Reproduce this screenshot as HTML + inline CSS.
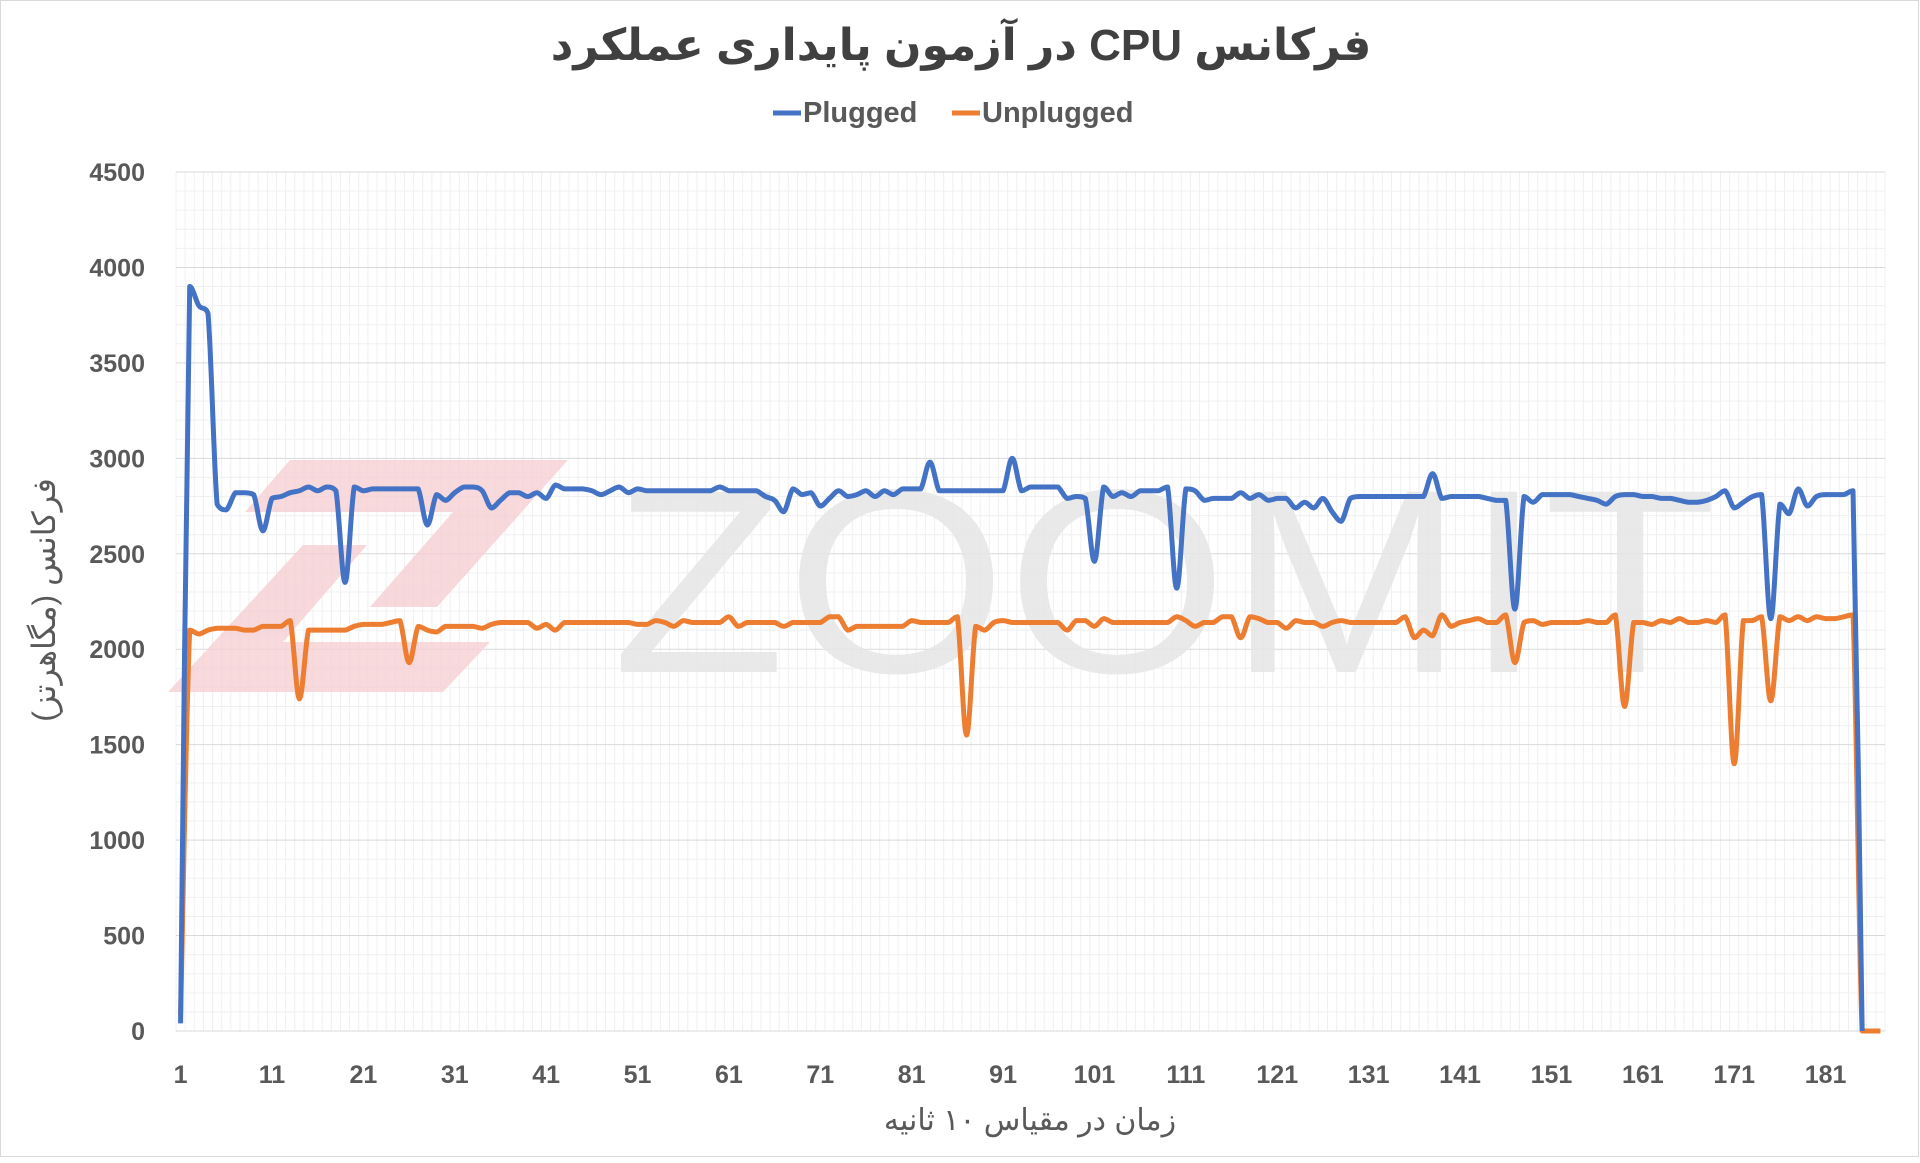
<!DOCTYPE html>
<html><head><meta charset="utf-8"><style>
html,body{margin:0;padding:0;background:#fff;}
body{width:1920px;height:1158px;overflow:hidden;position:relative;font-family:"Liberation Sans","DejaVu Sans",sans-serif;}
</style></head><body>
<svg id="s" width="1920" height="1158" viewBox="0 0 1920 1158" xmlns="http://www.w3.org/2000/svg">
<rect x="0.5" y="0.5" width="1918" height="1156" fill="#fff" stroke="#d9d9d9"/>
<g id="grid"></g>
<!-- watermark -->
<g fill="#f6cfd3" opacity="0.8">
<polygon points="290,460 568,460 437,607 370,607 453,512 245,512"/>
<polygon points="303,545 367,545 283,642 490,642 443,692 168,692"/>
</g>
<text x="612" y="672" font-family="Liberation Sans,sans-serif" font-size="262" fill="#e6e6e6" opacity="0.85" textLength="1105" lengthAdjust="spacingAndGlyphs">ZOOMIT</text>
<g id="lines"></g>
<text x="961" y="60" text-anchor="middle" direction="rtl" font-family="'Liberation Sans','DejaVu Sans',sans-serif" font-weight="bold" font-size="44" fill="#404040">فرکانس CPU در آزمون پایداری عملکرد</text>
<line x1="773" y1="113" x2="801" y2="113" stroke="#4472c4" stroke-width="5"/>
<text x="803" y="122" font-weight="bold" font-size="29" fill="#595959">Plugged</text>
<line x1="952" y1="113" x2="980" y2="113" stroke="#ed7d31" stroke-width="5"/>
<text x="982" y="122" font-weight="bold" font-size="29" fill="#595959">Unplugged</text>
<g id="ylab" font-weight="bold" font-size="25" fill="#595959" text-anchor="end"></g>
<g id="xlab" font-weight="bold" font-size="25" fill="#595959" text-anchor="middle"></g>
<text x="1030" y="1130" text-anchor="middle" direction="rtl" font-family="'Liberation Sans','DejaVu Sans',sans-serif" font-size="30" fill="#595959">زمان در مقیاس ۱۰ ثانیه</text>
<text transform="translate(55,600) rotate(-90)" text-anchor="middle" direction="rtl" font-family="'Liberation Sans','DejaVu Sans',sans-serif" font-size="32" fill="#595959">فرکانس (مگاهرتز)</text>
</svg>
<script>
var L=176,R=1885,T=172,B=1031,N=187,cw=(R-L)/N;
function X(i){return L+(i-0.5)*cw;}
function Y(v){return B-(v/4500)*(B-T);}
var g='';
for(var i=0;i<=N;i++){g+='<line x1="'+(L+i*cw)+'" y1="'+T+'" x2="'+(L+i*cw)+'" y2="'+B+'" stroke="#f0f0f0" stroke-width="1"/>';}
for(var v=0;v<=4500;v+=100){var c=(v%500==0)?'#d9d9d9':'#f0f0f0';g+='<line x1="'+L+'" y1="'+Y(v)+'" x2="'+R+'" y2="'+Y(v)+'" stroke="'+c+'" stroke-width="1"/>';}
document.getElementById('grid').innerHTML=g;
var yl='';for(var v=0;v<=4500;v+=500)yl+='<text x="145" y="'+(Y(v)+9)+'">'+v+'</text>';
document.getElementById('ylab').innerHTML=yl;
var xl='';for(var i=1;i<=181;i+=10)xl+='<text x="'+X(i)+'" y="1083">'+i+'</text>';
document.getElementById('xlab').innerHTML=xl;
function build(base,pts,len){var a=[];for(var i=1;i<=len;i++)a[i]=base;for(var k in pts)a[+k]=pts[k];return a;}
var P=build(2830,{1:40,2:3900,3:3800,4:3760,5:2760,6:2730,7:2820,8:2820,9:2810,10:2620,11:2790,12:2800,13:2820,14:2830,15:2850,16:2830,17:2850,18:2830,19:2350,20:2850,21:2830,22:2840,23:2840,24:2840,25:2840,26:2840,27:2840,28:2650,29:2810,30:2780,31:2820,32:2850,33:2850,34:2830,35:2740,36:2780,37:2820,38:2820,39:2800,40:2820,41:2790,42:2860,43:2840,44:2840,45:2840,46:2830,47:2810,48:2830,49:2850,50:2820,51:2840,60:2850,65:2800,66:2780,67:2720,68:2840,69:2810,70:2820,71:2750,72:2790,73:2830,74:2800,75:2810,76:2830,77:2800,78:2830,79:2810,80:2840,81:2840,82:2840,83:2980,84:2830,92:3000,93:2830,94:2850,95:2850,96:2850,97:2850,98:2790,99:2800,100:2790,101:2460,102:2850,103:2800,104:2820,105:2800,106:2830,109:2850,110:2320,111:2840,112:2830,113:2780,114:2790,115:2790,116:2790,117:2820,118:2790,119:2810,120:2780,121:2790,122:2790,123:2740,124:2770,125:2740,126:2790,127:2720,128:2670,129:2790,130:2800,131:2800,132:2800,133:2800,134:2800,135:2800,136:2800,137:2800,138:2920,139:2790,140:2800,141:2800,142:2800,143:2800,144:2790,145:2780,146:2780,147:2210,148:2800,149:2770,150:2810,151:2810,152:2810,153:2810,154:2800,155:2790,156:2780,157:2760,158:2800,159:2810,160:2810,161:2800,162:2800,163:2790,164:2790,165:2780,166:2770,167:2770,168:2780,169:2800,170:2830,171:2740,172:2770,173:2800,174:2810,175:2160,176:2760,177:2710,178:2840,179:2750,180:2800,181:2810,182:2810,183:2810,184:2830,185:0},185);
var U=build(2140,{1:80,2:2100,3:2080,4:2100,5:2110,6:2110,7:2110,8:2100,9:2100,10:2120,11:2120,12:2120,13:2150,14:1740,15:2100,16:2100,17:2100,18:2100,19:2100,20:2120,21:2130,22:2130,23:2130,24:2140,25:2150,26:1930,27:2120,28:2100,29:2090,30:2120,31:2120,32:2120,33:2120,34:2110,35:2130,40:2110,41:2130,42:2100,51:2130,52:2130,53:2150,54:2140,55:2120,56:2150,61:2170,62:2120,67:2120,72:2170,73:2170,74:2100,75:2120,76:2120,77:2120,78:2120,79:2120,80:2120,81:2150,86:2170,87:1550,88:2120,89:2100,90:2140,91:2150,97:2140,98:2100,99:2150,100:2150,101:2120,102:2160,110:2170,111:2150,112:2120,113:2140,115:2170,116:2170,117:2060,118:2170,119:2160,122:2110,123:2150,126:2120,128:2150,135:2170,136:2060,137:2100,138:2070,139:2180,140:2120,141:2140,142:2150,143:2160,146:2180,147:1930,148:2140,149:2150,150:2130,155:2150,158:2180,159:1700,160:2140,161:2140,162:2130,163:2150,165:2160,168:2150,170:2180,171:1400,172:2150,173:2150,174:2170,175:1730,176:2170,177:2150,178:2170,179:2150,180:2170,181:2160,182:2160,183:2170,184:2180,185:0,186:0,187:0},187);
function cl(v,a,b){var lo=Math.min(a,b),hi=Math.max(a,b);return Math.max(lo,Math.min(hi,v));}
function path(a,len){var p=[];for(var i=1;i<=len;i++)p.push([X(i),Y(a[i])]);
var d='M'+p[0][0]+','+p[0][1];var t=0.35;
for(var i=0;i<p.length-1;i++){var p0=p[i-1]||p[i],p1=p[i],p2=p[i+1],p3=p[i+2]||p2;
var c1x=p1[0]+(p2[0]-p0[0])*t/2,c1y=cl(p1[1]+(p2[1]-p0[1])*t/2,p1[1],p2[1]);
var c2x=p2[0]-(p3[0]-p1[0])*t/2,c2y=cl(p2[1]-(p3[1]-p1[1])*t/2,p1[1],p2[1]);
d+=' C'+c1x+','+c1y+' '+c2x+','+c2y+' '+p2[0]+','+p2[1];}
return d;}
document.getElementById('lines').innerHTML='<path d="'+path(U,187)+'" fill="none" stroke="#ed7d31" stroke-width="5" stroke-linejoin="round"/><path d="'+path(P,185)+'" fill="none" stroke="#4472c4" stroke-width="5" stroke-linejoin="round"/>';
</script>
</body></html>
